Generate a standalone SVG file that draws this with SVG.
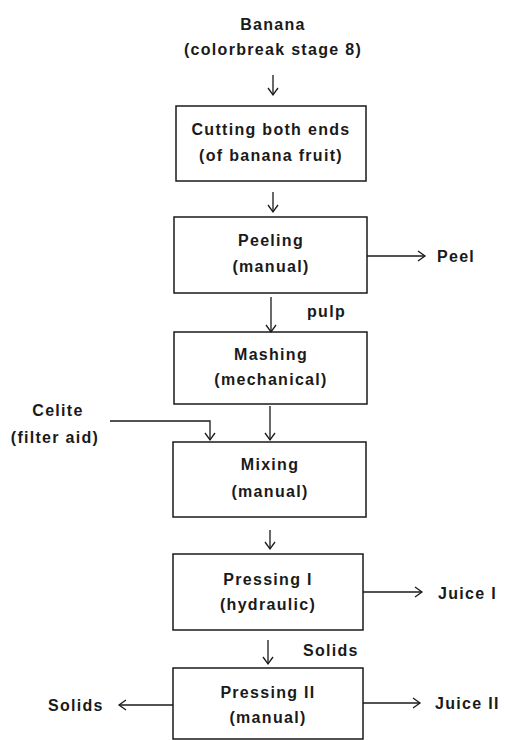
<svg xmlns="http://www.w3.org/2000/svg" width="505" height="740" viewBox="0 0 505 740">
<style>
  .box { fill: none; stroke: #1a1a1a; stroke-width: 1.5; }
  .t { font-family: "Liberation Sans", Arial, sans-serif; font-weight: bold; font-size: 16px; fill: #1a1a1a; letter-spacing: 1.3px; }
  .c { text-anchor: middle; }
  .ln { fill: none; stroke: #1a1a1a; stroke-width: 1.3; marker-end: url(#ah); }
</style>
<defs>
  <marker id="ah" viewBox="-9 -7 11 14" refX="0" refY="0" markerWidth="11" markerHeight="14" markerUnits="userSpaceOnUse" orient="auto">
    <path d="M-7,-5 L0,0 L-7,5" fill="none" stroke="#1a1a1a" stroke-width="1.3"/>
  </marker>
</defs>
<rect width="505" height="740" fill="#ffffff"/>

<g id="banana">
  <text class="t c" x="273" y="30">Banana</text>
  <text class="t c" x="273" y="55">(colorbreak stage 8)</text>
</g>
<g id="cutting">
  <rect class="box" x="176" y="106" width="190" height="75"/>
  <text class="t c" x="271" y="135">Cutting both ends</text>
  <text class="t c" x="271" y="161">(of banana fruit)</text>
</g>
<g id="peeling">
  <rect class="box" x="174" y="217" width="193" height="76"/>
  <text class="t c" x="271" y="246">Peeling</text>
  <text class="t c" x="271" y="272">(manual)</text>
</g>
<g id="peel"><text class="t" x="437" y="262">Peel</text></g>
<g id="mashing">
  <rect class="box" x="174" y="332" width="193" height="72"/>
  <text class="t c" x="271" y="360">Mashing</text>
  <text class="t c" x="271" y="385">(mechanical)</text>
</g>
<g id="celite">
  <text class="t c" x="58" y="416">Celite</text>
  <text class="t c" x="55" y="443">(filter aid)</text>
</g>
<g id="mixing">
  <rect class="box" x="173" y="442" width="193" height="75"/>
  <text class="t c" x="270" y="470">Mixing</text>
  <text class="t c" x="270" y="497">(manual)</text>
</g>
<g id="pressing1">
  <rect class="box" x="173" y="554" width="190" height="76"/>
  <text class="t c" x="268" y="585">Pressing I</text>
  <text class="t c" x="268" y="610">(hydraulic)</text>
</g>
<g id="juice1"><text class="t" x="438" y="599">Juice I</text></g>
<g id="pressing2">
  <rect class="box" x="173" y="668" width="190" height="71"/>
  <text class="t c" x="268" y="698">Pressing II</text>
  <text class="t c" x="268" y="723">(manual)</text>
</g>
<g id="juice2"><text class="t" x="435" y="709">Juice II</text></g>
<g id="solids-out"><text class="t" x="48" y="711">Solids</text></g>

<g id="connectors">
  <line class="ln" x1="273" y1="75" x2="273" y2="95"/>
  <line class="ln" x1="273" y1="192" x2="273" y2="212"/>
  <line class="ln" x1="367" y1="256" x2="425" y2="256"/>
  <line class="ln" x1="271" y1="297" x2="271" y2="332"/>
  <text class="t" x="307" y="317">pulp</text>
  <line class="ln" x1="270" y1="406" x2="270" y2="440"/>
  <path class="ln" d="M110,421 H210 V440"/>
  <line class="ln" x1="270" y1="530" x2="270" y2="549"/>
  <line class="ln" x1="363" y1="592" x2="422" y2="592"/>
  <line class="ln" x1="268" y1="640" x2="268" y2="664"/>
  <text class="t" x="303" y="656">Solids</text>
  <line class="ln" x1="363" y1="703" x2="420" y2="703"/>
  <line class="ln" x1="173" y1="705" x2="119" y2="705"/>
</g>
</svg>
